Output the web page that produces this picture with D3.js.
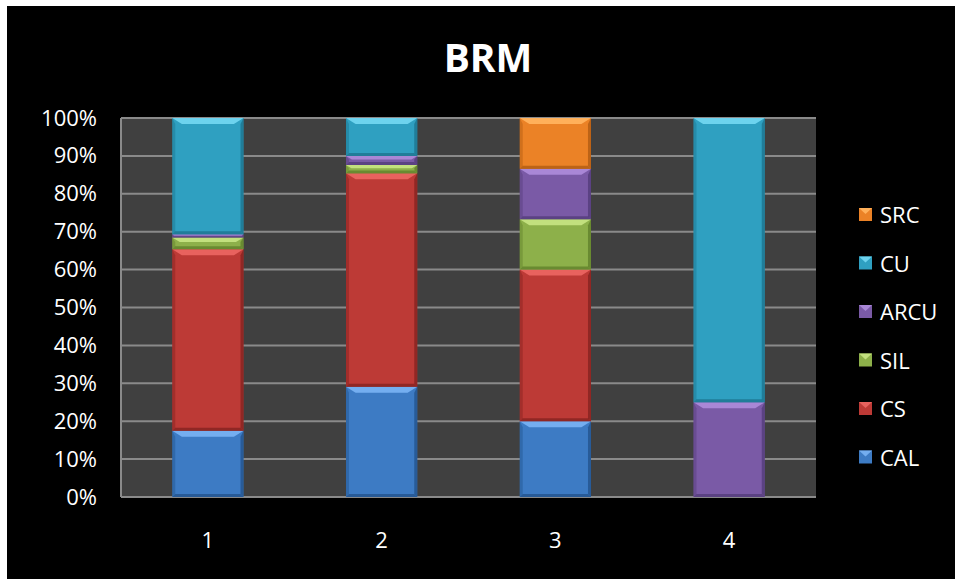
<!DOCTYPE html>
<html><head><meta charset="utf-8">
<script src="https://cdn.jsdelivr.net/npm/d3@7"></script>
<style>html,body{margin:0;padding:0;background:#fff;}svg{display:block;}</style>
</head><body>
<script>
const categories = ["1","2","3","4"];
const seriesNames = ["CAL","CS","SIL","ARCU","CU","SRC"];
const CAL  = [17.5, 29.1, 20.0, 0];
const CS   = [47.9, 56.3, 40.0, 0];
const SIL  = [3.1, 2.2, 13.3, 0];
const ARCU = [0.8, 2.4, 13.3, 25.0];
const CU   = [30.7, 10.0, 0, 75.0];
const SRC  = [0, 0, 13.4, 0];
const yTicks = [0,10,20,30,40,50,60,70,80,90,100];
const colors = {CAL:"#3d7bc4",CS:"#bd3a36",SIL:"#8db04a",ARCU:"#7a5aa6",CU:"#2fa0c1",SRC:"#eb8226"};
const lights = {CAL:"#74aef0",CS:"#e8625e",SIL:"#c2e07e",ARCU:"#a987d6",CU:"#6dd3ee",SRC:"#ffb05a"};
const darks  = {CAL:"#1f4f86",CS:"#7e1f1c",SIL:"#5a7a26",ARCU:"#4f3775",CU:"#1a6e87",SRC:"#a8550f"};
const values = {CAL,CS,SIL,ARCU,CU,SRC};

const W=955,H=579;
const svg=d3.select("body").append("svg").attr("width",W).attr("height",H);
svg.append("rect").attr("width",W).attr("height",H).attr("fill","#fff");
svg.append("rect").attr("x",7).attr("y",6).attr("width",W-7).attr("height",H-6).attr("fill","#000");

const font="'Open Sans', sans-serif";
svg.append("text").attr("x",488).attr("y",72).attr("text-anchor","middle")
  .attr("fill","#fff").attr("font-family",font).attr("font-weight","bold").attr("font-size",39).text("BRM");

const L=121,R=816,T=118,B=497;
const x=d3.scaleBand().domain(categories).range([L,R]).paddingInner(0.59).paddingOuter(0.295);
const y=d3.scaleLinear().domain([0,100]).range([B,T]);

svg.append("rect").attr("x",L).attr("y",T).attr("width",R-L).attr("height",B-T).attr("fill","#404040");
svg.append("g").selectAll("line").data(yTicks).join("line")
  .attr("x1",L).attr("x2",R).attr("y1",d=>y(d)).attr("y2",d=>y(d))
  .attr("stroke","#8a8a8a").attr("stroke-width",2);
svg.append("line").attr("x1",L).attr("x2",L).attr("y1",T).attr("y2",B).attr("stroke","#8a8a8a").attr("stroke-width",2);

// y axis labels
const yAxis=d3.axisLeft(y).tickValues(yTicks).tickFormat(d=>d+"%").tickSize(0).tickPadding(24);
const ga=svg.append("g").attr("transform",`translate(${L},0)`).call(yAxis);
ga.select(".domain").remove();
ga.selectAll("text").attr("fill","#fff").attr("font-family",font).attr("font-size",22);

// x axis labels
const xAxis=d3.axisBottom(x).tickSize(0).tickPadding(35);
const gx=svg.append("g").attr("transform",`translate(0,${B})`).call(xAxis);
gx.select(".domain").remove();
gx.selectAll("text").attr("fill","#fff").attr("font-family",font).attr("font-size",22);

// stacked bars
const rows=categories.map((c,i)=>{const o={cat:c};seriesNames.forEach(s=>o[s]=values[s][i]);return o;});
const stack=d3.stack().keys(seriesNames)(rows);
const bev=6, side=3;
stack.forEach(layer=>{
  const s=layer.key;
  const g=svg.append("g");
  layer.forEach((d,i)=>{
    if(d[1]-d[0]<=0) return;
    const x0=x(categories[i]), x1=x0+x.bandwidth();
    const y0=y(d[1]), y1=y(d[0]);
    const h=y1-y0, b=Math.min(bev,h/2.5), sd=Math.min(side,h/3);
    g.append("rect").attr("x",x0).attr("y",y0).attr("width",x1-x0).attr("height",h).attr("fill",colors[s]);
    g.append("polygon").attr("points",[[x0,y0],[x0+sd,y0+b],[x0+sd,y1-sd],[x0,y1]].join(" ")).attr("fill",darks[s]).attr("opacity",0.4);
    g.append("polygon").attr("points",[[x1,y0],[x1-sd,y0+b],[x1-sd,y1-sd],[x1,y1]].join(" ")).attr("fill",darks[s]).attr("opacity",0.7);
    g.append("polygon").attr("points",[[x0,y1],[x0+sd,y1-sd],[x1-sd,y1-sd],[x1,y1]].join(" ")).attr("fill",darks[s]).attr("opacity",0.7);
    g.append("polygon").attr("points",[[x0,y0],[x1,y0],[x1-b*1.6,y0+b],[x0+b*1.6,y0+b]].join(" ")).attr("fill",lights[s]);
  });
});

// legend
const legendOrder=seriesNames.slice().reverse();
const lg=svg.append("g");
legendOrder.forEach((s,i)=>{
  const cy=215+i*48.5;
  lg.append("rect").attr("x",859).attr("y",cy-7).attr("width",13).attr("height",13).attr("fill",colors[s]);
  lg.append("polygon").attr("points",[[859,cy-7],[872,cy-7],[865.5,cy-1]].join(" ")).attr("fill",lights[s]);
  lg.append("text").attr("x",880).attr("y",cy+8).attr("fill","#fff").attr("font-family",font).attr("font-size",22).text(s);
});
</script>
</body></html>
